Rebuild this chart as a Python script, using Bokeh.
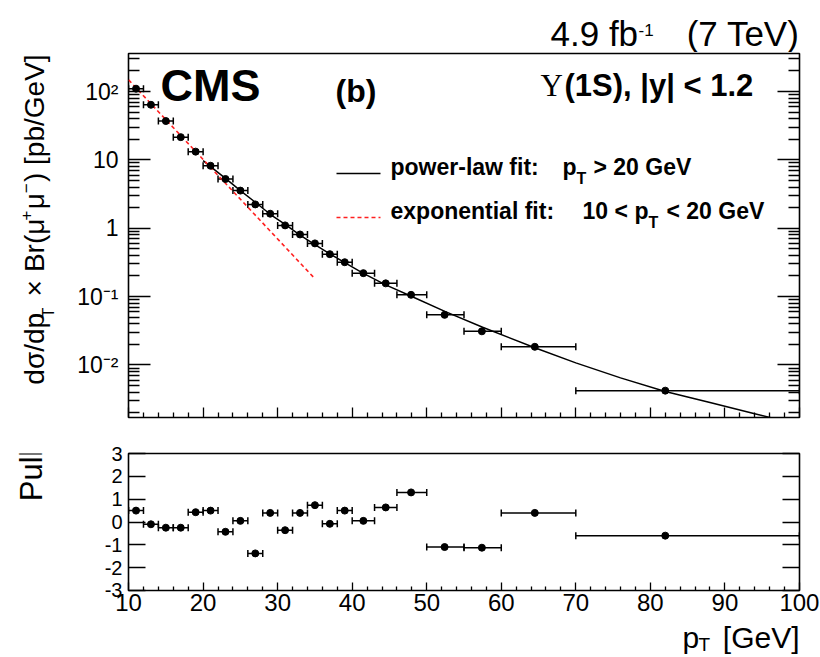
import math
from bokeh.plotting import figure
from bokeh.models import (Range1d, FixedTicker, LinearAxis, LogAxis, Label, Whisker,
                          TeeHead, ColumnDataSource, Arrow, Plot)
from bokeh.layouts import column, row
from bokeh.embed import file_html
from bokeh.resources import INLINE

FONT = "Liberation Sans"

# ---------------- data ----------------
bin_lo = [10, 12, 14, 16, 18, 20, 22, 24, 26, 28, 30, 32, 34, 36, 38, 40, 43, 46, 50, 55, 60, 70]
bin_hi = [12, 14, 16, 18, 20, 22, 24, 26, 28, 30, 32, 34, 36, 38, 40, 43, 46, 50, 55, 60, 70, 100]
pt_mean = [11.0, 13.0, 15.0, 17.0, 19.0, 21.0, 23.0, 25.0, 27.0, 29.0, 31.0, 33.0, 35.0, 37.0,
           39.0, 41.5, 44.5, 47.9, 52.4, 57.4, 64.5, 82.0]
xsec = [110, 64, 37, 21.5, 13.2, 8.2, 5.25, 3.55, 2.23, 1.63, 1.10, 0.81, 0.60, 0.417,
        0.318, 0.22, 0.156, 0.106, 0.054, 0.031, 0.0184, 0.0042]
pull = [0.50, -0.10, -0.25, -0.25, 0.43, 0.50, -0.43, 0.05, -1.38, 0.40, -0.36, 0.40, 0.74,
        -0.08, 0.50, 0.05, 0.64, 1.30, -1.10, -1.13, 0.40, -0.60]

# power-law fit curve (pT > 20 GeV)
fit_pt = [20, 21, 23, 25, 27, 29, 31, 33, 35, 37, 39, 41.5, 44.5, 48, 52.5, 57.5, 64.5,
          70, 76, 82, 88, 94, 97]
fit_val = [9.77, 7.94, 5.37, 3.55, 2.40, 1.60, 1.135, 0.794, 0.575, 0.422, 0.313, 0.219,
           0.148, 0.100, 0.0603, 0.0355, 0.0178, 0.0107, 0.00646, 0.00407, 0.00282,
           0.00193, 0.00160]

# exponential fit (10 < pT < 20 GeV), a straight line on the log scale
exp_pt = [10, 35]
exp_val = [148, 0.182]

x_major = [10, 20, 30, 40, 50, 60, 70, 80, 90, 100]
x_minor = [v for v in range(12, 100, 2) if v % 10 != 0]
y_major = [0.01, 0.1, 1, 10, 100]
y_labels = ["10\u207b\u00b2", "10\u207b\u00b9", "1", "10", "10\u00b2"]
y_minor = [m * 10.0 ** e for e in range(-3, 3) for m in range(2, 10)]
pull_ticks = [-3, -2, -1, 0, 1, 2, 3]
pull_labels = ["-3", "-2", "-1", "0", "1", "2", "3"]

# ---------------- layout constants (canvas pixels) ----------------
W = 820
LW = 70            # width of the left text strips
L, R = 58, 21      # borders of the plot figures (frame left edge at canvas x = 128)
FL = LW + L        # 128
HEAD_H = 52
TOP_H = 388        # top plot figure: canvas y 52..440
TOP_FB = 417       # canvas y of top frame bottom
BOT_Y0 = HEAD_H + TOP_H    # 440
BOT_FB = 590
BOT_H = 181        # bottom plot figure: canvas y 440..621
TIT_Y0 = BOT_Y0 + BOT_H    # 621
TIT_H = 657 - TIT_Y0
SHIFT = 0.4        # empirical baseline correction (fraction of font size)


def style_axis(ax, major_in, minor_in, size=12, standoff=5, labels=None, ticks=None):
    ax.axis_line_color = None
    ax.major_tick_in = major_in
    ax.major_tick_out = 0
    ax.minor_tick_in = minor_in
    ax.minor_tick_out = 0
    ax.major_tick_line_color = "black"
    ax.minor_tick_line_color = "black" if minor_in else None
    ax.major_tick_line_width = 1.3
    ax.minor_tick_line_width = 1.3
    ax.major_label_text_font = FONT
    ax.major_label_text_color = "black"
    ax.major_label_text_font_size = f"{size}px"
    ax.major_label_standoff = standoff
    if labels is None:
        ax.major_label_overrides = {t: "" for t in ticks}
    else:
        ax.major_label_overrides = dict(zip(ticks, labels))


def text_fig(w, h):
    """A plain canvas whose frame is the whole figure; data units = pixels, y downwards."""
    return Plot(width=w, height=h, x_range=Range1d(0, w), y_range=Range1d(h, 0),
                min_border=0, min_border_left=0, min_border_right=0, min_border_top=0,
                min_border_bottom=0, toolbar_location=None, output_backend="svg",
                outline_line_color=None, title=None, background_fill_color="white",
                border_fill_color="white")


def tlab(fig, x0, y0, X, Y, text, size, bold=False, align="left", rot=False, font=FONT):
    d = SHIFT * size
    if rot:
        X -= d
    else:
        Y -= d
    fig.add_layout(Label(x=X - x0, y=Y - y0, text=text, text_font=font,
                         text_font_size=f"{size}px",
                         text_font_style="bold" if bold else "normal",
                         text_align=align, text_baseline="alphabetic",
                         angle=math.pi / 2 if rot else 0.0, text_color="black"))


def flab(fig, fb, X, Y, text, size, bold=False, align="left", font=FONT):
    Y -= SHIFT * size
    fig.add_layout(Label(x=X - FL, y=fb - Y, x_units="screen", y_units="screen", text=text,
                         text_font=font, text_font_size=f"{size}px",
                         text_font_style="bold" if bold else "normal",
                         text_align=align, text_baseline="alphabetic",
                         text_color="black"))


# ================= header strip =================
head = text_fig(W, HEAD_H)
tlab(head, 0, 0, 550, 47, "4.9 fb", 35)
tlab(head, 0, 0, 638, 36, "-1", 17)
tlab(head, 0, 0, 799, 47, "(7 TeV)", 35, align="right")

# ================= top panel =================
top = figure(width=W - LW, height=TOP_H, x_range=Range1d(9.99, 100.01),
             y_range=Range1d(1.7e-3, 3.6e2), y_axis_type="log",
             output_backend="svg", toolbar_location=None,
             min_border_left=L, min_border_right=R,
             min_border_top=53 - HEAD_H, min_border_bottom=HEAD_H + TOP_H - TOP_FB)
top.xgrid.visible = False
top.ygrid.visible = False
top.outline_line_color = "black"
top.outline_line_width = 1.6
top.background_fill_color = "white"
top.border_fill_color = "white"

top.xaxis.ticker = FixedTicker(ticks=x_major, minor_ticks=x_minor)
style_axis(top.xaxis[0], 10, 5, ticks=x_major)
top.yaxis.ticker = FixedTicker(ticks=y_major, minor_ticks=y_minor)
style_axis(top.yaxis[0], 22, 11, size=23, standoff=10, labels=y_labels, ticks=y_major)
ry = LogAxis(ticker=FixedTicker(ticks=y_major, minor_ticks=y_minor))
style_axis(ry, 22, 11, ticks=y_major)
top.add_layout(ry, "right")

src = ColumnDataSource(dict(x=pt_mean, y=xsec, lo=bin_lo, hi=bin_hi))
top.add_layout(Whisker(source=src, base="y", lower="lo", upper="hi", dimension="width",
                       line_color="black", line_width=1.5,
                       lower_head=TeeHead(size=7, line_color="black", line_width=1.5),
                       upper_head=TeeHead(size=7, line_color="black", line_width=1.5)))
top.line(fit_pt, fit_val, line_color="black", line_width=1.5)
top.line(exp_pt, exp_val, line_color="#ff2020", line_width=1.6, line_dash="4 3")
top.scatter("x", "y", source=src, size=7, color="black", marker="circle")

flab(top, TOP_FB, 160, 103, "CMS", 45, bold=True)
flab(top, TOP_FB, 335, 103, "(b)", 32, bold=True)
flab(top, TOP_FB, 540, 97, "\u03a5", 31, font="Liberation Serif")
flab(top, TOP_FB, 564, 97, "(1S), |y| < 1.2", 31, bold=True)

# legend
top.add_layout(Arrow(end=None, x_start=336 - FL, y_start=TOP_FB - 173, x_end=380 - FL,
                     y_end=TOP_FB - 173, start_units="screen", end_units="screen",
                     line_color="black", line_width=1.5))
top.add_layout(Arrow(end=None, x_start=336 - FL, y_start=TOP_FB - 217, x_end=380 - FL,
                     y_end=TOP_FB - 217, start_units="screen", end_units="screen",
                     line_color="#ff2020", line_width=1.6, line_dash="4 3"))
flab(top, TOP_FB, 390, 176, "power-law fit:", 23, bold=True)
flab(top, TOP_FB, 562, 176, "p", 23, bold=True)
flab(top, TOP_FB, 576, 184, "T", 16, bold=True)
flab(top, TOP_FB, 593, 176, "> 20 GeV", 23, bold=True)
flab(top, TOP_FB, 390, 220, "exponential fit:", 23, bold=True)
flab(top, TOP_FB, 582, 220, "10 <", 23, bold=True)
flab(top, TOP_FB, 634, 220, "p", 23, bold=True)
flab(top, TOP_FB, 648, 228, "T", 16, bold=True)
flab(top, TOP_FB, 666, 220, "< 20 GeV", 23, bold=True)

# y-axis title strip (rotated pieces)
ylab = text_fig(LW, TOP_H)
Y0 = HEAD_H
tlab(ylab, 0, Y0, 45, 405, "d\u03c3/dp", 28, rot=True)
tlab(ylab, 0, Y0, 55, 334, "T", 17, rot=True)
tlab(ylab, 0, Y0, 45, 311, "\u00d7", 28, rot=True)
tlab(ylab, 0, Y0, 45, 285, "Br(\u03bc", 28, rot=True)
tlab(ylab, 0, Y0, 32, 230, "+", 17, rot=True)
tlab(ylab, 0, Y0, 45, 218, "\u03bc", 28, rot=True)
tlab(ylab, 0, Y0, 32, 201, "\u2212", 17, rot=True)
tlab(ylab, 0, Y0, 45, 189, ") [pb/GeV]", 28, rot=True)

# ================= bottom (pull) panel =================
bot = figure(width=W - LW, height=BOT_H, x_range=Range1d(9.99, 100.01),
             y_range=Range1d(-3.01, 3.01),
             output_backend="svg", toolbar_location=None,
             min_border_left=L, min_border_right=R,
             min_border_top=453 - BOT_Y0, min_border_bottom=BOT_Y0 + BOT_H - BOT_FB)
bot.xgrid.visible = False
bot.ygrid.visible = False
bot.outline_line_color = "black"
bot.outline_line_width = 1.6
bot.background_fill_color = "white"
bot.border_fill_color = "white"

bot.xaxis.ticker = FixedTicker(ticks=x_major, minor_ticks=x_minor)
style_axis(bot.xaxis[0], 8, 4, size=24, standoff=3,
           labels=[str(v) for v in x_major], ticks=x_major)
bot.yaxis.ticker = FixedTicker(ticks=pull_ticks)
style_axis(bot.yaxis[0], 17, 0, size=20, standoff=6, labels=pull_labels, ticks=pull_ticks)
rp = LinearAxis(ticker=FixedTicker(ticks=pull_ticks))
style_axis(rp, 17, 0, ticks=pull_ticks)
bot.add_layout(rp, "right")

psrc = ColumnDataSource(dict(x=pt_mean, y=pull, lo=bin_lo, hi=bin_hi))
bot.add_layout(Whisker(source=psrc, base="y", lower="lo", upper="hi", dimension="width",
                       line_color="black", line_width=1.5,
                       lower_head=TeeHead(size=7, line_color="black", line_width=1.5),
                       upper_head=TeeHead(size=7, line_color="black", line_width=1.5)))
bot.scatter("x", "y", source=psrc, size=7, color="black", marker="circle")

plab = text_fig(LW, BOT_H)
tlab(plab, 0, BOT_Y0, 43, 503, "Pull", 31, rot=True)

# x-axis title strip
xt = text_fig(W, TIT_H)
tlab(xt, 0, TIT_Y0, 682, 649, "p", 30)
tlab(xt, 0, TIT_Y0, 698, 652, "T", 19)
tlab(xt, 0, TIT_Y0, 799, 649, "[GeV]", 30, align="right")

layout = column(head,
                row(ylab, top, spacing=0),
                row(plab, bot, spacing=0),
                xt, spacing=0)
open("out.html", "w").write(file_html(layout, INLINE))
